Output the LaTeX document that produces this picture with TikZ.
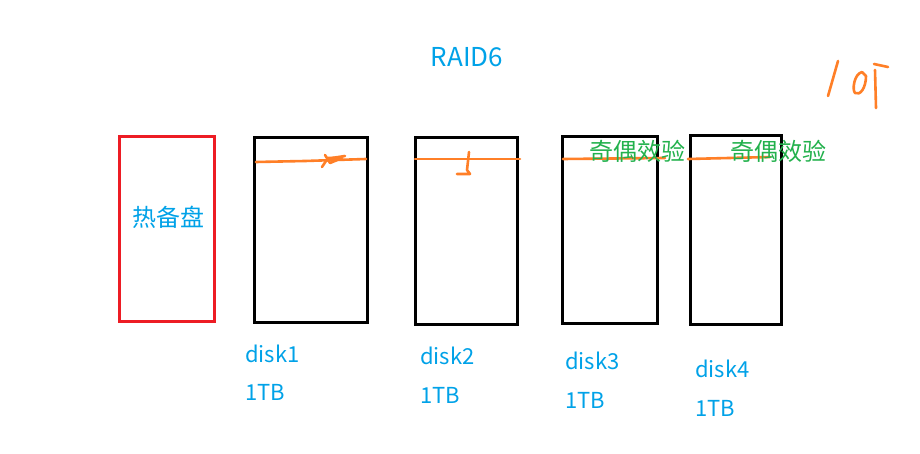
\documentclass[tikz,border=0pt]{standalone}
\usepackage{fontspec}
\setmainfont{Noto Sans CJK SC}
\definecolor{lblue}{RGB}{0,162,232}
\definecolor{dgreen}{RGB}{34,177,76}
\definecolor{orng}{RGB}{255,127,39}
\definecolor{rred}{RGB}{237,28,36}
\begin{document}
\begin{tikzpicture}[x=1pt,y=-1pt,
  disk/.style={draw=black,line width=3pt},
  spare/.style={draw=rred,line width=3pt},
  lbl/.style={text=lblue,font=\fontsize{22}{26}\selectfont,inner sep=0pt},
  par/.style={text=dgreen,font=\fontsize{24}{28}\selectfont,inner sep=0pt},
  stroke/.style={draw=orng,line width=2.6pt,line cap=round,line join=round}]
\useasboundingbox[fill=white] (0,0) rectangle (920,454);
\node[lbl,font=\fontsize{26}{30}\selectfont] (title) at (467,57) {RAID6};
% hot spare
\draw[spare] (119,137) rectangle (214,321);
\node[lbl,font=\fontsize{24}{28}\selectfont] (spare) at (168,217) {热备盘};
% disks
\draw[disk] (254,138) rectangle (367,322);
\draw[disk] (415,138) rectangle (517,324);
\draw[disk] (562,137) rectangle (657,323);
\draw[disk] (690,136) rectangle (781,324);
% orange lines
\draw[stroke] (256,162) -- (305,161) -- (366,159);
\draw[stroke] (325,155) -- (330,163) -- (342,158) -- (328,158) -- (322,167);
\draw[stroke] (332,158) -- (345,156);
\draw[stroke] (415,159) -- (520,159);
\draw[stroke] (469,152) -- (467,170) -- (470,174) -- (457,174);
\draw[stroke] (563,159) -- (665,158);
\draw[stroke] (688,159) -- (770,157);
% parity labels
\node[par,anchor=west] (p3) at (589,151) {奇偶效验};
\node[par,anchor=west] (p4) at (730,151) {奇偶效验};
% disk labels
\node[lbl,anchor=west] (d1) at (245,354) {disk1};
\node[lbl,anchor=west] (t1) at (245,392) {1TB};
\node[lbl,anchor=west] (d2) at (420,356) {disk2};
\node[lbl,anchor=west] (t2) at (420,395) {1TB};
\node[lbl,anchor=west] (d3) at (565,361) {disk3};
\node[lbl,anchor=west] (t3) at (565,400) {1TB};
\node[lbl,anchor=west] (d4) at (695,369) {disk4};
\node[lbl,anchor=west] (t4) at (695,408) {1TB};
% handwritten "1个"
\draw[stroke] (838,61) -- (828,96);
\draw[stroke] (862,72) .. controls (854,74) and (852,90) .. (855,93) .. controls (860,96) and (866,88) .. (866,76) -- (862,72);
\draw[stroke] (874,64) -- (888,67);
\draw[stroke] (875,70) -- (876,108);
\end{tikzpicture}
\end{document}
